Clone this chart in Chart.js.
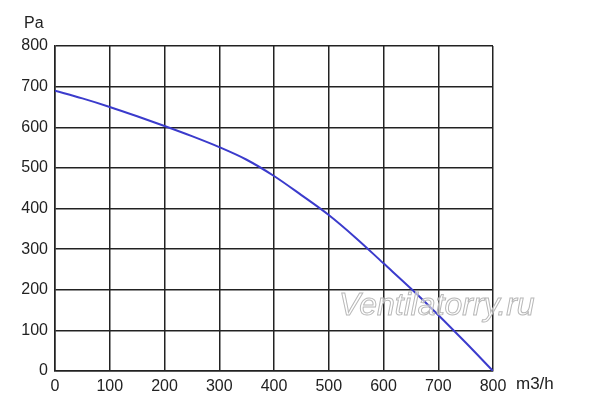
<!DOCTYPE html>
<html>
<head>
<meta charset="utf-8">
<script src="https://cdn.jsdelivr.net/npm/chart.js@4"></script>
<style>
  html, body { margin: 0; padding: 0; background: #fff; }
  #wrap { width: 600px; height: 412px; }
</style>
</head>
<body>
<div id="wrap"><canvas id="fanChart" width="600" height="412"></canvas></div>
<script>
// Air flow (m3/h) and pressure (Pa)
const flowValues = [0, 50, 100, 150, 200, 250, 300, 350, 400, 450, 500, 550, 600, 650, 700, 750, 800];
const pressureValues = [690, 671, 650, 627, 603, 578, 551, 520, 480, 433, 384, 327, 265, 203, 138, 70, 0];
const xTicks = [0, 100, 200, 300, 400, 500, 600, 700, 800];
const yTicks = [0, 100, 200, 300, 400, 500, 600, 700, 800];
const yUnit = "Pa";
const xUnit = "m3/h";
const watermark = "Ventilatorry.ru";

const points = flowValues.map((x, i) => ({ x: x, y: pressureValues[i] }));

// Unit labels and watermark drawn on top of the chart
const extrasPlugin = {
  id: "extras",
  afterDatasetsDraw(chart) {
    const ctx = chart.ctx;
    const area = chart.chartArea;
    ctx.save();
    ctx.fillStyle = "#222";
    ctx.font = "16px 'Liberation Sans', Arial, sans-serif";
    ctx.textBaseline = "middle";
    ctx.textAlign = "left";
    ctx.fillText(yUnit, 24, 24);
    ctx.font = "17px 'Liberation Sans', Arial, sans-serif";
    ctx.fillText(xUnit, area.right + 23, area.bottom + 13);

    ctx.font = "italic 32px 'Liberation Sans', Arial, sans-serif";
    ctx.textBaseline = "alphabetic";
    ctx.fillStyle = "rgba(255,255,255,0.55)";
    ctx.strokeStyle = "#b8b8b8";
    ctx.lineWidth = 1;
    ctx.fillText(watermark, 339, 315);
    ctx.strokeText(watermark, 339, 315);
    ctx.restore();
  }
};

new Chart(document.getElementById("fanChart"), {
  type: "line",
  data: {
    datasets: [
      {
        data: points,
        borderColor: "#3b3bcc",
        borderWidth: 2,
        pointRadius: 0,
        fill: false,
        cubicInterpolationMode: "monotone",
      },
    ],
  },
  options: {
    responsive: false,
    animation: false,
    devicePixelRatio: 1,
    layout: { padding: { top: 46, right: 107, left: 0, bottom: 0 } },
    plugins: { legend: { display: false }, tooltip: { enabled: false } },
    scales: {
      x: {
        type: "linear",
        min: 0,
        max: 800,
        afterBuildTicks(scale) {
          scale.ticks = xTicks.map(v => ({ value: v }));
        },
        afterFit(scale) { scale.height = 41; },
        grid: { color: "#222", lineWidth: 1.5, drawTicks: false },
        border: { color: "#222", width: 1.5 },
        ticks: {
          color: "#222",
          padding: 6,
          maxRotation: 0,
          font: { family: "'Liberation Sans', Arial, sans-serif", size: 16 },
        },
      },
      y: {
        min: 0,
        max: 800,
        afterBuildTicks(scale) {
          scale.ticks = yTicks.map(v => ({ value: v }));
        },
        afterFit(scale) { scale.width = 55; },
        grid: { color: "#222", lineWidth: 1.5, drawTicks: false },
        border: { color: "#222", width: 1.5 },
        ticks: {
          color: "#222",
          padding: 7,
          font: { family: "'Liberation Sans', Arial, sans-serif", size: 16 },
        },
      },
    },
  },
  plugins: [extrasPlugin],
});
</script>
</body>
</html>
